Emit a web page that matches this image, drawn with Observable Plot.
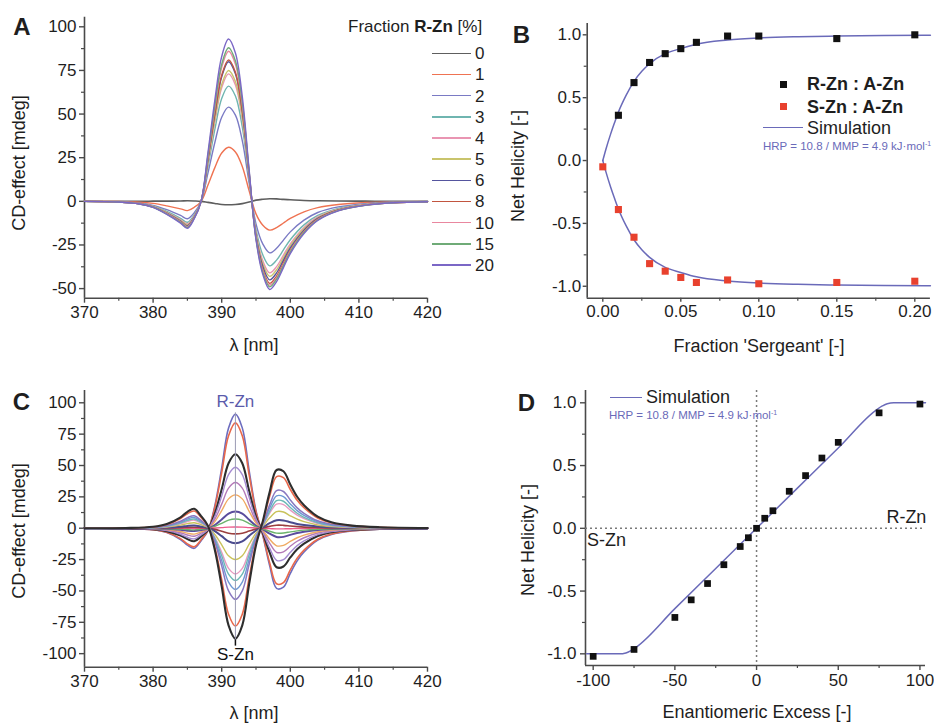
<!DOCTYPE html>
<html><head><meta charset="utf-8">
<script src="https://cdn.jsdelivr.net/npm/d3@7"></script>
<script src="https://cdn.jsdelivr.net/npm/@observablehq/plot@0.6"></script>
<style>
html,body{margin:0;padding:0;background:#fff;overflow:hidden}
#fig{position:relative;width:934px;height:724px;overflow:hidden;background:#fff;font-family:"Liberation Sans",Arial,Helvetica,sans-serif;color:#1e1e1e}
.t{position:absolute;line-height:1;white-space:nowrap;transform:translate(-50%,-50%)}
.l{position:absolute;line-height:1;white-space:nowrap;transform:translate(0,-50%)}
.sw{position:absolute}
sup{font-size:0.6em;vertical-align:0.6em;line-height:0}
</style></head><body><div id="fig"></div>
<script>
// ---------- Panel A data ----------
const wlA = [370,375,378,380,382,384,385,386,387,388,389,390,391,392,393,394,395,396,397,398,399,400,402,404,407,411,415,420];
const fractionsA = ["0","1","2","3","4","5","6","8","10","15","20"];
const colorsA = ["#5e5e5e","#ef7352","#7a7ac4","#6fb5b0","#e995b2","#c9c46c","#55559e","#c2553f","#e9879f","#6fab77","#7b67c6"];
const cdA0 = [0,0,0,0.1,0.1,0.2,0.3,0.2,0,-0.6,-1.2,-1.8,-2,-1.8,-1.3,-0.4,0.7,1.2,1.5,1.4,1.1,0.9,0.5,0.3,0.2,0.1,0,0];
const cdA1 = [0,-0.1,-0.5,-1.2,-2.6,-4.3,-5.3,-3.4,0,9.3,19.3,27.7,31,28.3,20,6,-7.2,-13.7,-16.5,-15,-12.4,-9.8,-6,-3.6,-1.8,-0.7,-0.3,-0.1];
const cdA2 = [0,-0.3,-1,-2.3,-4.8,-8.1,-10,-6.5,0,16.3,33.7,48.2,54,49.4,34.8,10.5,-12.9,-24.5,-29.5,-26.9,-22.2,-17.5,-10.8,-6.4,-3.2,-1.3,-0.5,-0.1];
const cdA3 = [0,-0.3,-1.2,-2.7,-5.8,-9.7,-12,-7.7,0,19.9,41.2,58.9,66,60.3,42.6,12.8,-16.1,-30.8,-37,-33.7,-27.8,-22,-13.5,-8.1,-4,-1.6,-0.6,-0.1];
const cdA4 = [0,-0.3,-1.3,-2.9,-6.3,-10.5,-13,-8.4,0,22,45.6,65.1,73,66.7,47.1,14.2,-17.9,-34.1,-41,-37.4,-30.8,-24.4,-15,-8.9,-4.5,-1.8,-0.7,-0.2];
const cdA5 = [0,-0.4,-1.3,-3.1,-6.5,-10.9,-13.5,-8.7,0,22.6,46.8,66.9,75,68.6,48.4,14.6,-18.7,-35.8,-43,-39.2,-32.3,-25.5,-15.7,-9.4,-4.7,-1.9,-0.7,-0.2];
const cdA6 = [0,-0.4,-1.4,-3.2,-6.8,-11.3,-14,-9,0,24.1,49.9,71.4,80,73.1,51.6,15.5,-19.6,-37.4,-45,-41,-33.8,-26.7,-16.5,-9.8,-4.9,-2,-0.7,-0.2];
const cdA8 = [0,-0.4,-1.4,-3.3,-7,-11.7,-14.5,-9.4,0,24.4,50.5,72.3,81,74,52.2,15.7,-20.5,-39.1,-47,-42.8,-35.3,-27.9,-17.2,-10.2,-5.1,-2.1,-0.8,-0.2];
const cdA10 = [0,-0.4,-1.4,-3.3,-7,-11.7,-14.5,-9.4,0,25.9,53.7,76.7,86,78.6,55.5,16.7,-20.9,-39.9,-48,-43.7,-36.1,-28.5,-17.6,-10.5,-5.2,-2.1,-0.8,-0.2];
const cdA15 = [0,-0.4,-1.5,-3.4,-7.3,-12.1,-15,-9.7,0,26.5,54.9,78.5,88,80.4,56.8,17.1,-21.4,-40.8,-49,-44.6,-36.8,-29.1,-17.9,-10.7,-5.3,-2.2,-0.8,-0.2];
const cdA20 = [0,-0.4,-1.5,-3.5,-7.5,-12.5,-15.5,-10,0,28,58,83,93,85,60,18,-22,-42,-50.5,-46,-38,-30,-18.5,-11,-5.5,-2.2,-0.8,-0.2];
const curvesA = [cdA0,cdA1,cdA2,cdA3,cdA4,cdA5,cdA6,cdA8,cdA10,cdA15,cdA20];

// ---------- Panel B data ----------
const fracBR = [0.01,0.02,0.03,0.04,0.05,0.06,0.08,0.10,0.15,0.20];
const helBR  = [0.36,0.62,0.78,0.85,0.89,0.94,0.99,0.99,0.97,1.00];
const fracBS = [0,0.01,0.02,0.03,0.04,0.05,0.06,0.08,0.10,0.15,0.20];
const helBS  = [-0.05,-0.39,-0.61,-0.82,-0.88,-0.93,-0.97,-0.95,-0.98,-0.97,-0.96];
const simBx  = [0,0.002,0.005,0.0075,0.01,0.015,0.02,0.025,0.03,0.04,0.05,0.06,0.08,0.10,0.125,0.15,0.18,0.21];
const simBup = [0,0.09,0.21,0.3,0.385,0.52,0.63,0.71,0.77,0.85,0.89,0.925,0.958,0.975,0.985,0.99,0.994,0.996];
const simBdn = [0,-0.09,-0.21,-0.3,-0.385,-0.52,-0.63,-0.71,-0.77,-0.85,-0.89,-0.925,-0.958,-0.975,-0.985,-0.99,-0.994,-0.996];

// ---------- Panel C data ----------
const wlC = [370,376,380,382,384,385,386,387,388,389,390,391,392,393,394,395,396,397,398,399,400,401,402,404,406,409,413,420];
const cdC01 = [0,-0.2,-1.2,-3.5,-9,-13.5,-16,-10,-2,18,48,80,91,80,46,14,-6,-30,-48,-47,-36,-26,-19,-9.5,-5,-2.2,-0.8,-0.2];
const cdC02 = [0,-0.2,-1.1,-3.2,-8.3,-12.5,-14.8,-9.2,-1.8,16.6,44.3,73.8,84,73.8,42.5,12.9,-5.5,-27.7,-44.3,-43.4,-33.2,-24,-17.5,-8.8,-4.6,-2,-0.7,-0.2];
const cdC03 = [0,-0.1,-0.8,-2.3,-5.8,-8.7,-10.4,-6.5,-1.3,11.7,31.1,51.8,59,51.8,29.8,9.1,-3.9,-19.4,-31.1,-30.5,-23.3,-16.8,-12.3,-6.2,-3.2,-1.4,-0.5,-0.1];
const cdC04 = [0,-0.1,-0.6,-1.9,-4.8,-7.2,-8.5,-5.3,-1.1,9.6,25.6,42.7,48.6,42.7,24.6,7.5,-3.2,-16,-25.6,-25.1,-19.2,-13.9,-10.1,-5.1,-2.7,-1.2,-0.4,-0.1];
const cdC05 = [0,-0.1,-0.5,-1.4,-3.6,-5.4,-6.4,-4,-0.8,7.2,19.2,32,36.4,32,18.4,5.6,-2.4,-12,-19.2,-18.8,-14.4,-10.4,-7.6,-3.8,-2,-0.9,-0.3,-0.1];
const cdC06 = [0,-0.1,-0.4,-1,-2.6,-3.9,-4.7,-2.9,-0.6,5.3,14,23.4,26.6,23.4,13.4,4.1,-1.8,-8.8,-14,-13.7,-10.5,-7.6,-5.5,-2.8,-1.5,-0.6,-0.2,-0.1];
const cdC07 = [0,0,-0.2,-0.5,-1.3,-2,-2.3,-1.5,-0.3,2.6,7,11.7,13.3,11.7,6.7,2,-0.9,-4.4,-7,-6.9,-5.3,-3.8,-2.8,-1.4,-0.7,-0.3,-0.1,0];
const cdC08 = [0,0,-0.1,-0.3,-0.7,-1.1,-1.3,-0.8,-0.2,1.5,3.9,6.5,7.4,6.5,3.7,1.1,-0.5,-2.4,-3.9,-3.8,-2.9,-2.1,-1.5,-0.8,-0.4,-0.2,-0.1,0];
const cdC09 = [0,0,0,0,-0.1,-0.1,-0.2,-0.1,0,0.2,0.5,0.9,1,0.9,0.5,0.2,-0.1,-0.3,-0.5,-0.5,-0.4,-0.3,-0.2,-0.1,-0.1,0,0,0];
const cdC10 = [0,0,0.1,0.2,0.4,0.7,0.8,0.5,0.1,-0.9,-2.4,-4,-4.5,-4,-2.3,-0.7,0.3,1.5,2.4,2.3,1.8,1.3,0.9,0.5,0.2,0.1,0,0];
const cdC11 = [0,0,0.2,0.5,1.2,1.8,2.1,1.3,0.3,-2.4,-6.3,-10.5,-12,-10.5,-6.1,-1.8,0.8,4,6.3,6.2,4.8,3.4,2.5,1.3,0.7,0.3,0.1,0];
const cdC12 = [0,0.1,0.3,1,2.5,3.7,4.4,2.8,0.6,-5,-13.2,-22,-25,-22,-12.7,-3.9,1.7,8.3,13.2,12.9,9.9,7.2,5.2,2.6,1.4,0.6,0.2,0.1];
const cdC13 = [0,0.1,0.5,1.4,3.6,5.4,6.4,4,0.8,-7.2,-19.2,-32,-36.4,-32,-18.4,-5.6,2.4,12,19.2,18.8,14.4,10.4,7.6,3.8,2,0.9,0.3,0.1];
const cdC14 = [0,0.1,0.5,1.6,4.1,6.2,7.3,4.6,0.9,-8.2,-22,-36.6,-41.7,-36.6,-21.1,-6.4,2.7,13.7,22,21.5,16.5,11.9,8.7,4.4,2.3,1,0.4,0.1];
const cdC15 = [0,0.1,0.6,1.9,4.8,7.3,8.6,5.4,1.1,-9.7,-25.8,-43,-48.9,-43,-24.7,-7.5,3.2,16.1,25.8,25.2,19.3,14,10.2,5.1,2.7,1.2,0.4,0.1];
const cdC16 = [0,0.1,0.7,2.2,5.6,8.4,10,6.2,1.2,-11.2,-30,-50,-56.8,-50,-28.7,-8.7,3.7,18.7,30,29.3,22.5,16.2,11.9,5.9,3.1,1.4,0.5,0.1];
const cdC17 = [0,0.2,1,3,7.7,11.6,13.7,8.6,1.7,-15.4,-41.1,-68.6,-78,-68.6,-39.4,-12,5.1,25.7,41.1,40.3,30.9,22.3,16.3,8.1,4.3,1.9,0.7,0.2];
const cdC18 = [0,0.2,1.2,3.4,8.7,13.1,15.5,9.7,1.9,-17.4,-46.4,-77.4,-88,-77.4,-44.5,-13.5,5.8,29,46.4,45.4,34.8,25.1,18.4,9.2,4.8,2.1,0.8,0.2];
const curvesC = [cdC01,cdC02,cdC03,cdC04,cdC05,cdC06,cdC07,cdC08,cdC09,cdC10,cdC11,cdC12,cdC13,cdC14,cdC15,cdC16,cdC17,cdC18];
const colorsC = ["#6d6dbf","#e8684b","#2e2e2e","#a58bd2","#b47ab8","#f0aa62","#5a4c9d","#6bb36b","#ec5b8c","#9b3f3f","#4a4a8e","#c9c25a","#e79bc1","#6cb9b5","#6e98d4","#8a78c0","#e8684b","#2e2e2e"];
const widthsC = [1.6,1.6,2.1,1.4,1.4,1.4,2,1.4,1.4,1.6,2,1.4,1.4,1.4,1.4,1.5,1.6,2.1];

// ---------- Panel D data ----------
const eeD  = [-100,-75,-50,-40,-30,-20,-10,-5,0,5,10,20,30,40,50,75,100];
const helD = [-1.02,-0.965,-0.71,-0.57,-0.44,-0.29,-0.145,-0.075,0,0.08,0.14,0.295,0.42,0.56,0.685,0.92,0.99];
const simDx = [-104,-84,-80,-77,-74,-50,-25,0,25,50,74,77,80,84,103.4];
const simDy = [-1,-1,-0.993,-0.975,-0.95,-0.64,-0.32,0,0.32,0.64,0.95,0.975,0.993,1,1];

// ---------- ticks ----------
const ticksWl = [370,380,390,400,410,420], minorWl = [375,385,395,405,415];
const ticksAy = [-50,-25,0,25,50,75,100], minorAy = [-37.5,-12.5,12.5,37.5,62.5,87.5];
const ticksCy = [-100,-75,-50,-25,0,25,50,75,100], minorCy = [-87.5,-62.5,-37.5,-12.5,12.5,37.5,62.5,87.5];
const ticksBx = [0,0.05,0.10,0.15,0.20], minorBx = [0.025,0.075,0.125,0.175];
const ticksH = [-1,-0.5,0,0.5,1], minorH = [-0.75,-0.25,0.25,0.75];
const ticksDx = [-100,-50,0,50,100], minorDx = [-75,-25,25,75];

// ---------- helpers ----------
const fig = document.getElementById("fig");
const FONT = '"Liberation Sans", Arial, Helvetica, sans-serif';
const AX = "#4a4a4a", TXT = "#1e1e1e", SIM = "#6a6ab9";

function axes(o) {
  return [
    Plot.axisX({ticks: o.xMinor, tickSize: 3, tickFormat: () => "", label: null, stroke: AX, strokeWidth: 1.2}),
    Plot.axisY({ticks: o.yMinor, tickSize: 3, tickFormat: () => "", label: null, stroke: AX, strokeWidth: 1.2}),
    Plot.axisX({ticks: o.xTicks, tickSize: o.ts, tickPadding: o.tpx, tickFormat: o.xf, label: null, stroke: AX, fill: TXT, strokeWidth: 1.4}),
    Plot.axisY({ticks: o.yTicks, tickSize: o.ts, tickPadding: o.tpy, tickFormat: o.yf, label: null, stroke: AX, fill: TXT, strokeWidth: 1.4}),
    Plot.ruleY([o.yd[0]], {stroke: AX, strokeWidth: 1.6}),
    Plot.ruleX([o.xd[0]], {stroke: AX, strokeWidth: 1.6})
  ];
}
function mount(o, marks) {
  const svg = Plot.plot({
    width: o.w, height: o.h,
    marginLeft: o.mL, marginRight: o.mR, marginTop: o.mT, marginBottom: o.mB,
    x: {type: "linear", domain: o.xd, nice: false},
    y: {type: "linear", domain: o.yd, nice: false},
    style: {background: "transparent", fontFamily: FONT, fontSize: "17px", color: TXT, overflow: "visible"},
    marks: [...axes(o), ...marks]
  });
  Object.assign(svg.style, {position: "absolute", left: o.left + "px", top: o.top + "px", maxWidth: "none"});
  fig.appendChild(svg);
}
function txt(s, x, y, opt = {}) {
  const {size = 18, weight = "normal", color = TXT, rotate = 0, anchor = "middle", html = false} = opt;
  const d = document.createElement("div");
  d.className = anchor === "start" ? "l" : "t";
  Object.assign(d.style, {left: x + "px", top: y + "px", fontSize: size + "px", fontWeight: weight, color});
  if (rotate) d.style.transform = `translate(-50%,-50%) rotate(${rotate}deg)`;
  if (html) d.innerHTML = s; else d.textContent = s;
  fig.appendChild(d);
}
function swatchLine(x, y, w, color, t = 1.5) {
  const d = document.createElement("div");
  d.className = "sw";
  Object.assign(d.style, {left: x + "px", top: (y - t / 2) + "px", width: w + "px", height: t + "px", background: color});
  fig.appendChild(d);
}
function swatchBox(cx, cy, s, color) {
  const d = document.createElement("div");
  d.className = "sw";
  Object.assign(d.style, {left: (cx - s / 2) + "px", top: (cy - s / 2) + "px", width: s + "px", height: s + "px", background: color});
  fig.appendChild(d);
}
const fmtInt = d => String(d);
const fmt1 = d => d.toFixed(1);
const fmt2 = d => d.toFixed(2);

// ---------- Panel A ----------
mount({left: 0, top: 0, w: 470, h: 330, mL: 84, mR: 43, mT: 16.7, mB: 32.3,
  xd: [370, 420], yd: [-55.5, 105.5], xTicks: ticksWl, xMinor: minorWl, yTicks: ticksAy, yMinor: minorAy,
  ts: 5, tpx: 3, tpy: 3, xf: fmtInt, yf: fmtInt},
  curvesA.map((c, i) => Plot.line(wlA.map((w, j) => ({w, v: c[j]})),
    {x: "w", y: "v", stroke: colorsA[i], strokeWidth: i === 0 ? 1.6 : 1.4, curve: "catmull-rom"})));

// ---------- Panel B ----------
mount({left: 470, top: 0, w: 464, h: 330, mL: 116.7, mR: 4.1, mT: 23, mB: 32.3,
  xd: [-0.01, 0.21], yd: [-1.095, 1.09], xTicks: ticksBx, xMinor: minorBx, yTicks: ticksH, yMinor: minorH,
  ts: 4, tpx: 3, tpy: 2, xf: fmt2, yf: fmt1},
  [
    Plot.line(simBx.map((x, i) => ({x, y: simBup[i]})), {x: "x", y: "y", stroke: SIM, strokeWidth: 1.5, curve: "monotone-x"}),
    Plot.line(simBx.map((x, i) => ({x, y: simBdn[i]})), {x: "x", y: "y", stroke: SIM, strokeWidth: 1.5, curve: "monotone-x"}),
    Plot.dot(fracBR.map((f, i) => ({f, h: helBR[i]})), {x: "f", y: "h", symbol: "square", r: 4, fill: "#111", stroke: "none"}),
    Plot.dot(fracBS.map((f, i) => ({f, h: helBS[i]})), {x: "f", y: "h", symbol: "square", r: 4, fill: "#e8412e", stroke: "none"})
  ]);

// ---------- Panel C ----------
const annC = [{x: 392, y: 101, label: "R-Zn", color: "#5b5bab"}, {x: 392, y: -101, label: "S-Zn", color: "#111"}];
mount({left: 0, top: 360, w: 470, h: 340, mL: 84, mR: 43, mT: 30, mB: 33.3,
  xd: [370, 420], yd: [-110.8, 109.8], xTicks: ticksWl, xMinor: minorWl, yTicks: ticksCy, yMinor: minorCy,
  ts: 5, tpx: 3, tpy: 3, xf: fmtInt, yf: fmtInt},
  [
    ...curvesC.map((c, i) => Plot.line(wlC.map((w, j) => ({w, v: c[j]})),
      {x: "w", y: "v", stroke: colorsC[i], strokeWidth: widthsC[i], curve: "catmull-rom"})),
    Plot.ruleX([392], {y1: -89, y2: 92, stroke: "#9a9ab4", strokeWidth: 1}),
    Plot.ruleX([392], {y1: -94, y2: -89, stroke: "#111", strokeWidth: 1.5}),
    Plot.text(annC, {x: "x", y: "y", text: "label", fill: "color", fontSize: 17, textAnchor: "middle"})
  ]);

// ---------- Panel D ----------
const annD = [{x: 91.7, y: 0.09, label: "R-Zn"}, {x: -91.8, y: -0.098, label: "S-Zn"}];
mount({left: 470, top: 360, w: 464, h: 340, mL: 115, mR: 9, mT: 30, mB: 35,
  xd: [-104.7, 103.4], yd: [-1.093, 1.098], xTicks: ticksDx, xMinor: minorDx, yTicks: ticksH, yMinor: minorH,
  ts: 5, tpx: 3, tpy: 4, xf: fmtInt, yf: fmt1},
  [
    Plot.ruleX([0], {stroke: "#7a7a7a", strokeWidth: 1.5, strokeDasharray: "2,3"}),
    Plot.ruleY([0], {stroke: "#7a7a7a", strokeWidth: 1.5, strokeDasharray: "2,3"}),
    Plot.line(simDx.map((x, i) => ({x, y: simDy[i]})), {x: "x", y: "y", stroke: SIM, strokeWidth: 1.5, curve: "monotone-x"}),
    Plot.dot(eeD.map((e, i) => ({e, h: helD[i]})), {x: "e", y: "h", symbol: "square", r: 3.8, fill: "#111", stroke: "none"}),
    Plot.text(annD, {x: "x", y: "y", text: "label", fill: TXT, fontSize: 18, textAnchor: "middle"})
  ]);

// ---------- Text: panel letters & axis titles ----------
txt("A", 22, 26.5, {size: 24, weight: "bold"});
txt("B", 521.5, 35, {size: 24, weight: "bold"});
txt("C", 21.5, 401.5, {size: 24, weight: "bold"});
txt("D", 526.5, 402.5, {size: 24, weight: "bold"});
txt("CD-effect [mdeg]", 19, 163, {rotate: -90});
txt("CD-effect [mdeg]", 19, 531, {rotate: -90});
txt("λ [nm]", 254, 345);
txt("λ [nm]", 254, 713);
txt("Net Helicity [-]", 518, 166, {rotate: -90});
txt("Net Helicity [-]", 528, 540, {rotate: -90});
txt("Fraction 'Sergeant' [-]", 759, 346);
txt("Enantiomeric Excess [-]", 757, 712);

// ---------- Legend A ----------
txt("Fraction <b>R-Zn</b> [%]", 348, 26, {size: 17, anchor: "start", html: true});
fractionsA.forEach((f, i) => {
  const y = 53.3 + i * 21.17;
  swatchLine(431.7, y, 39, colorsA[i], 1.5);
  txt(f, 475, y, {size: 17, anchor: "start"});
});

// ---------- Legend B ----------
swatchBox(783.5, 84.5, 7.5, "#111");
txt("R-Zn : A-Zn", 807, 84, {weight: "bold", anchor: "start"});
swatchBox(783.5, 106.5, 7.5, "#e8412e");
txt("S-Zn : A-Zn", 807, 107, {weight: "bold", anchor: "start"});
swatchLine(763, 127.7, 40, SIM, 1.5);
txt("Simulation", 807, 128, {anchor: "start"});
txt("HRP = 10.8 / MMP = 4.9 kJ·mol<sup>-1</sup>", 763, 147, {size: 11.5, color: SIM, anchor: "start", html: true});

// ---------- Legend D ----------
swatchLine(610, 397.3, 32, SIM, 1.5);
txt("Simulation", 646, 397, {anchor: "start"});
txt("HRP = 10.8 / MMP = 4.9 kJ·mol<sup>-1</sup>", 609, 416, {size: 11.5, color: SIM, anchor: "start", html: true});
</script></body></html>
